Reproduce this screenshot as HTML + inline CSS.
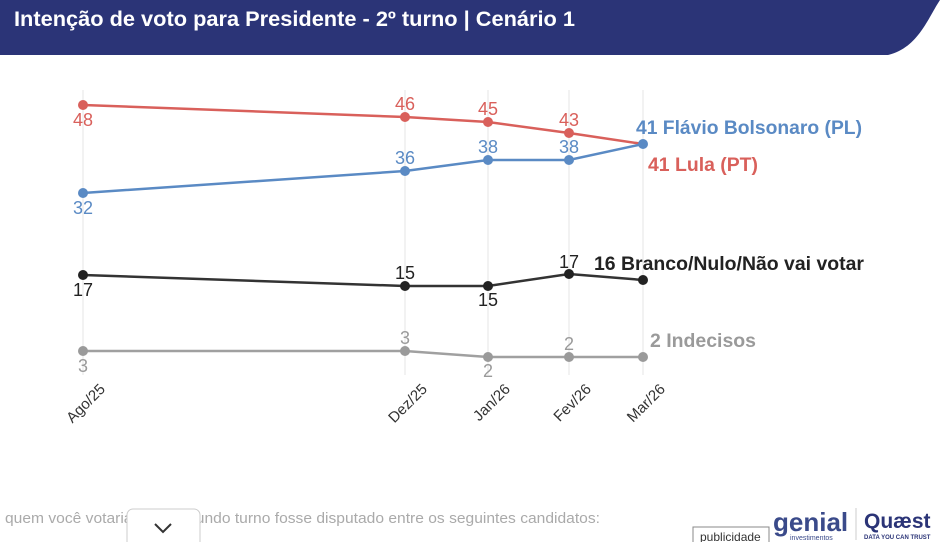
<!DOCTYPE html>
<html><head><meta charset="utf-8"><style>
body{margin:0;width:951px;height:542px;overflow:hidden;background:#fff;font-family:"Liberation Sans",sans-serif;position:relative}
.t{font-family:"Liberation Sans",sans-serif}
</style></head><body>
<svg width="951" height="542" style="position:absolute;left:0;top:0">
<path d="M0 0 H940 C928 18 918 48 888 55 H0 Z" fill="#2b3477"/>
<text x="14" y="26" fill="#fff" font-size="21" font-weight="bold" class="t" textLength="561" lengthAdjust="spacingAndGlyphs">Intenção de voto para Presidente - 2º turno | Cenário 1</text>
<g stroke="#e4e4e4" stroke-width="1">
<line x1="83" y1="90" x2="83" y2="375"/><line x1="405" y1="90" x2="405" y2="375"/><line x1="488" y1="90" x2="488" y2="375"/><line x1="569" y1="90" x2="569" y2="375"/><line x1="643" y1="90" x2="643" y2="375"/>
</g>
<g font-size="18" class="t">
<polyline points="83,105 405,117 488,122 569,133 643,144" fill="none" stroke="#d9605b" stroke-width="2.5"/>
<g fill="#d9605b"><circle cx="83" cy="105" r="5"/><circle cx="405" cy="117" r="5"/><circle cx="488" cy="122" r="5"/><circle cx="569" cy="133" r="5"/>
<text x="83" y="126" text-anchor="middle">48</text><text x="405" y="110" text-anchor="middle">46</text><text x="488" y="115" text-anchor="middle">45</text><text x="569" y="126" text-anchor="middle">43</text>
<text x="648" y="171" font-weight="bold" font-size="19" textLength="110" lengthAdjust="spacingAndGlyphs">41 Lula (PT)</text></g>
<polyline points="83,193 405,171 488,160 569,160 643,144" fill="none" stroke="#5a8ac4" stroke-width="2.5"/>
<g fill="#5a8ac4"><circle cx="83" cy="193" r="5"/><circle cx="405" cy="171" r="5"/><circle cx="488" cy="160" r="5"/><circle cx="569" cy="160" r="5"/><circle cx="643" cy="144" r="5"/>
<text x="83" y="214" text-anchor="middle">32</text><text x="405" y="164" text-anchor="middle">36</text><text x="488" y="153" text-anchor="middle">38</text><text x="569" y="153" text-anchor="middle">38</text>
<text x="636" y="134" font-weight="bold" font-size="19" textLength="226" lengthAdjust="spacingAndGlyphs">41 Flávio Bolsonaro (PL)</text></g>
<polyline points="83,275 405,286 488,286 569,274 643,280" fill="none" stroke="#333" stroke-width="2.5"/>
<g fill="#222"><circle cx="83" cy="275" r="5"/><circle cx="405" cy="286" r="5"/><circle cx="488" cy="286" r="5"/><circle cx="569" cy="274" r="5"/><circle cx="643" cy="280" r="5"/>
<text x="83" y="296" text-anchor="middle">17</text><text x="405" y="279" text-anchor="middle">15</text><text x="488" y="306" text-anchor="middle">15</text><text x="569" y="268" text-anchor="middle">17</text>
<text x="594" y="270" font-weight="bold" font-size="19" textLength="270" lengthAdjust="spacingAndGlyphs">16 Branco/Nulo/Não vai votar</text></g>
<polyline points="83,351 405,351 488,357 569,357 643,357" fill="none" stroke="#a0a0a0" stroke-width="2.5"/>
<g fill="#9a9a9a"><circle cx="83" cy="351" r="5"/><circle cx="405" cy="351" r="5"/><circle cx="488" cy="357" r="5"/><circle cx="569" cy="357" r="5"/><circle cx="643" cy="357" r="5"/>
<text x="83" y="372" text-anchor="middle">3</text><text x="405" y="344" text-anchor="middle">3</text><text x="488" y="377" text-anchor="middle">2</text><text x="569" y="350" text-anchor="middle">2</text>
<text x="650" y="347" font-weight="bold" font-size="19" textLength="106" lengthAdjust="spacingAndGlyphs">2 Indecisos</text></g>
</g>
<g font-size="15" fill="#333" class="t">
<text transform="translate(106,390) rotate(-45)" text-anchor="end">Ago/25</text>
<text transform="translate(428,390) rotate(-45)" text-anchor="end">Dez/25</text>
<text transform="translate(511,390) rotate(-45)" text-anchor="end">Jan/26</text>
<text transform="translate(592,390) rotate(-45)" text-anchor="end">Fev/26</text>
<text transform="translate(666,390) rotate(-45)" text-anchor="end">Mar/26</text>
</g>
<text x="5" y="523" font-size="15" fill="#aaa" class="t" textLength="595" lengthAdjust="spacingAndGlyphs">quem você votaria se o segundo turno fosse disputado entre os seguintes candidatos:</text>
<rect x="127" y="509" width="73" height="40" rx="6" fill="#fff" stroke="#ccc"/>
<path d="M155 524 L163 532 L171 524" fill="none" stroke="#333" stroke-width="2"/>
<rect x="693" y="527" width="76" height="20" fill="#fff" stroke="#888"/>
<text x="700" y="541" font-size="12" fill="#333" class="t">publicidade</text>
<text x="773" y="531" font-size="26" font-weight="bold" fill="#3a4a8a" class="t">genial</text>
<text x="790" y="540" font-size="7" fill="#3a4a8a" class="t">investimentos</text>
<line x1="856" y1="508" x2="856" y2="540" stroke="#ccc"/>
<text x="864" y="528" font-size="21" font-weight="bold" fill="#2b3477" class="t">Quæst</text>
<text x="864" y="539" font-size="6" font-weight="bold" fill="#2b3477" class="t">DATA YOU CAN TRUST</text>
</svg>
</body></html>
